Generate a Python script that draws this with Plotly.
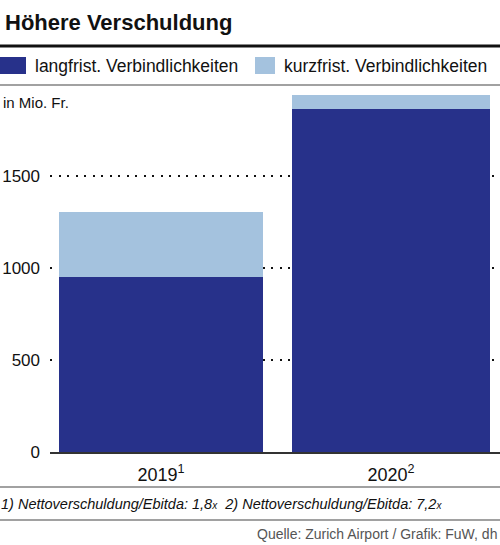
import plotly.graph_objects as go

# Data
years = ["2019", "2020"]
year_labels = ["2019<sup>1</sup>", "2020<sup>2</sup>"]
langfrist = [950, 1865]
kurzfrist = [355, 75]
y_ticks = [0, 500, 1000, 1500]

W, H = 500, 545
L, R, T, B = 50, 0, 90, 93
PW, PH = W - L - R, H - T - B

def px(x):
    return (x - L) / PW

def py(y):
    return (H - B - y) / PH

DARK = "#27318a"
LIGHT = "#a4c2de"
FONT = "Liberation Sans, Arial, sans-serif"

bar_w = [0.887, 0.861]
fig = go.Figure()
fig.add_trace(go.Bar(x=years, y=langfrist, marker=dict(color=DARK, line=dict(width=0)),
                     width=bar_w, name="langfrist. Verbindlichkeiten"))
fig.add_trace(go.Bar(x=years, y=kurzfrist, marker=dict(color=LIGHT, line=dict(width=0)),
                     width=bar_w, name="kurzfrist. Verbindlichkeiten"))

fig.update_layout(
    barmode="stack",
    width=W, height=H,
    margin=dict(l=L, r=R, t=T, b=B),
    paper_bgcolor="white", plot_bgcolor="white",
    showlegend=False,
    font=dict(family=FONT, size=16, color="#111"),
    xaxis=dict(type="category", range=[-0.4826, 1.474], tickvals=years, ticktext=year_labels,
               showgrid=False, zeroline=False, showline=True, linecolor="#333", linewidth=2,
               ticks="", tickfont=dict(size=18, color="#111"), ticklabelstandoff=5),
    yaxis=dict(range=[0, (H - B - T) / 0.184], tickvals=y_ticks,
               showgrid=True, gridcolor="#111", gridwidth=2, griddash="2px,6.5px",
               zeroline=False, showline=False, ticks="",
               tickfont=dict(size=17, color="#111"), ticklabelstandoff=9),
)

shapes = []
shapes.append(dict(type="line", xref="paper", yref="paper", x0=px(0), x1=px(500), y0=py(46), y1=py(46),
                   line=dict(color="#111", width=3)))
for yy in (85, 487, 520):
    shapes.append(dict(type="line", xref="paper", yref="paper", x0=px(0), x1=px(500), y0=py(yy), y1=py(yy),
                       line=dict(color="#444", width=1.2)))
shapes.append(dict(type="rect", xref="paper", yref="paper", x0=px(0), x1=px(26), y0=py(74), y1=py(57),
                   fillcolor=DARK, line=dict(width=0)))
shapes.append(dict(type="rect", xref="paper", yref="paper", x0=px(255), x1=px(275), y0=py(74), y1=py(57),
                   fillcolor=LIGHT, line=dict(width=0)))
fig.update_layout(shapes=shapes)

ann = []
ann.append(dict(text="<b>Höhere Verschuldung</b>", xref="paper", yref="paper", x=px(3), y=py(23),
                xanchor="left", yanchor="middle", showarrow=False, font=dict(size=22, color="#111")))
ann.append(dict(text="langfrist. Verbindlichkeiten", xref="paper", yref="paper", x=px(33), y=py(66),
                xanchor="left", yanchor="middle", showarrow=False, font=dict(size=17.5, color="#111")))
ann.append(dict(text="kurzfrist. Verbindlichkeiten", xref="paper", yref="paper", x=px(282), y=py(66),
                xanchor="left", yanchor="middle", showarrow=False, font=dict(size=17.5, color="#111")))
ann.append(dict(text="in Mio. Fr.", xref="paper", yref="paper", x=px(1), y=py(102),
                xanchor="left", yanchor="middle", showarrow=False, font=dict(size=15, color="#111")))
ann.append(dict(text="<i>1) Nettoverschuldung/Ebitda: 1,8<span style='font-size:10px'>x</span>  2) Nettoverschuldung/Ebitda: 7,2<span style='font-size:10px'>x</span></i>",
                xref="paper", yref="paper", x=px(-1), y=py(504),
                xanchor="left", yanchor="middle", showarrow=False, font=dict(size=14.5, color="#111")))
ann.append(dict(text="Quelle: Zurich Airport / Grafik: FuW, dh", xref="paper", yref="paper", x=px(499), y=py(534),
                xanchor="right", yanchor="middle", showarrow=False,
                font=dict(family="Liberation Sans, Arial, sans-serif", size=14, color="#555")))
fig.update_layout(annotations=ann)

fig.write_html("out.html", config={"displayModeBar": False},
               post_script="document.body.style.margin='0px';")
